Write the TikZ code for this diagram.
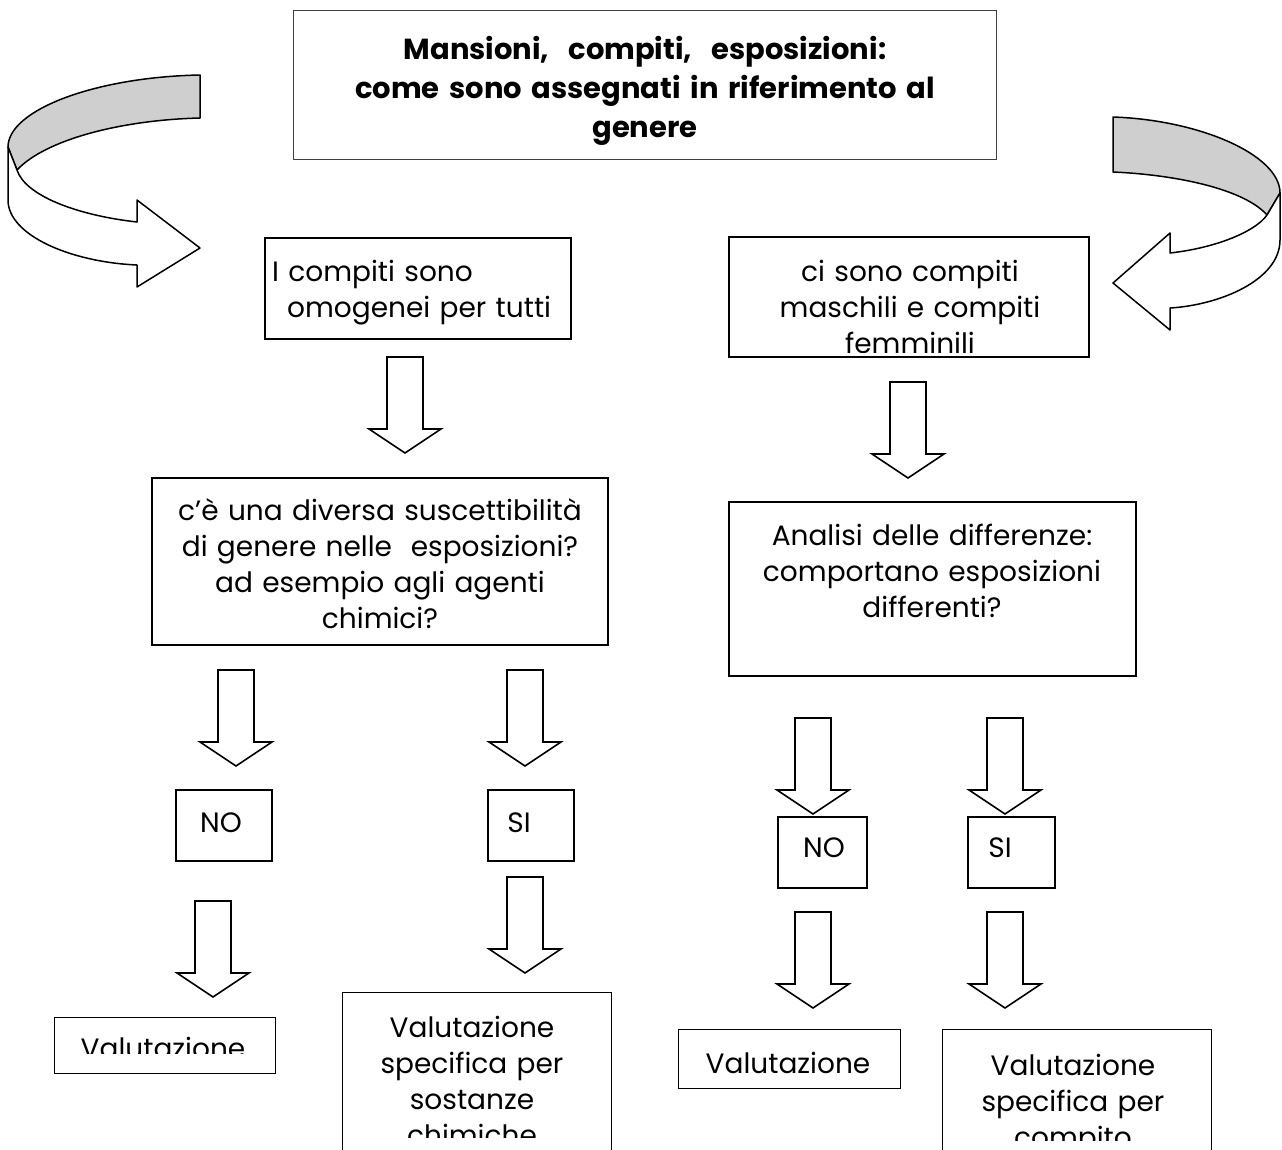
\documentclass[tikz,border=0pt]{standalone}
\usepackage{fontspec}
\setmainfont{Poppins}
\newcommand{\bodyfnt}{\fontsize{28}{36}\selectfont}
\newcommand{\titlefnt}{\bfseries\fontsize{29}{39}\selectfont}
\begin{document}
\begin{tikzpicture}[x=1pt,y=-1pt,
  box/.style={draw, line width=1.6pt, inner sep=0pt, outer sep=0pt, anchor=north west},
  thinbox/.style={box, line width=0.9pt},
  txt/.style={inner sep=0pt, align=center, font=\bodyfnt},
  ribbon/.style={draw, line width=1.5pt, line join=round},
  dnarrow/.pic={\draw[line width=1.6pt, line join=miter, fill=white]
     (-18,0) -- (18,0) -- (18,72) -- (36,72) -- (0,96) -- (-36,72) -- (-18,72) -- cycle;}
]
\useasboundingbox (0,0) rectangle (1282,1149);

% ---- curved ribbon arrows ----
\fill[white] (0,0) rectangle (1282,1149);
\path[ribbon, fill=black!19] (200,75) .. controls (95,77) and (8,110) .. (8,147)
  -- (17,170) .. controls (45,140) and (120,120) .. (200,118) -- cycle;
\path[ribbon, fill=white] (8,147) -- (8,200) .. controls (8,235) and (70,262) .. (137,265)
  -- (137,287) -- (200,248) -- (137,200) -- (137,222)
  .. controls (75,215) and (25,195) .. (17,170) -- cycle;

\path[ribbon, fill=black!19] (1113,117) .. controls (1200,120) and (1280,155) .. (1280,193)
  -- (1267,215) .. controls (1245,190) and (1180,175) .. (1113,172) -- cycle;
\path[ribbon, fill=white] (1280,193) -- (1280,240) .. controls (1280,280) and (1220,305) .. (1170,308)
  -- (1170,330) -- (1113,283) -- (1170,233) -- (1170,253)
  .. controls (1215,248) and (1255,232) .. (1267,215) -- cycle;

% ---- boxes ----
\node[thinbox, draw=black!75, minimum width=703, minimum height=149] (tb) at (293,10) {};
\node[box, minimum width=306, minimum height=101] (b1) at (265,238) {};
\node[box, minimum width=360, minimum height=120] (b2) at (729,237) {};
\node[box, minimum width=456, minimum height=167] (b3) at (152,478) {};
\node[box, minimum width=407, minimum height=174] (b4) at (729,502) {};
\node[box, minimum width=96, minimum height=71] (bno1) at (176,790) {};
\node[box, minimum width=86, minimum height=71] (bsi1) at (488,790) {};
\node[box, minimum width=89, minimum height=71] (bno2) at (778,817) {};
\node[box, minimum width=87, minimum height=71] (bsi2) at (968,817) {};
\node[thinbox, minimum width=221, minimum height=56] (bv1) at (54,1017) {};
\node[thinbox, minimum width=269, minimum height=200] (bv2) at (342,992) {};
\node[thinbox, minimum width=222, minimum height=59] (bv3) at (678,1029) {};
\node[thinbox, minimum width=269, minimum height=200] (bv4) at (942,1029) {};

% ---- texts ----
\node[txt, font=\titlefnt, text width=695, anchor=base] (tt) at (645,59)
  {Mansioni,\ \ compiti,\ \ esposizioni:\\come sono assegnati in riferimento al\\genere};
\node[txt, align=left, text width=300, anchor=base west] (t1) at (272,281)
  {I compiti sono\\\hspace*{15pt}omogenei per tutti};
\begin{scope}
  \clip (729,237) rectangle (1089,352);
  \node[txt, text width=355, anchor=base] (t2) at (910,281)
    {ci sono compiti\\maschili e compiti\\femminili};
\end{scope}
\node[txt, text width=450, anchor=base] (t3) at (380,520)
  {c’è una diversa suscettibilità\\di genere nelle\ \ esposizioni?\\ad esempio agli agenti\\chimici?};
\node[txt, text width=400, anchor=base] (t4) at (932,545)
  {Analisi delle differenze:\\comportano esposizioni\\differenti?};
\node[txt, anchor=base] (tno1) at (221,832) {NO};
\node[txt, anchor=base] (tsi1) at (519,832) {SI};
\node[txt, anchor=base] (tno2) at (824,857) {NO};
\node[txt, anchor=base] (tsi2) at (1000,857) {SI};
\begin{scope}
  \clip (54,1017) rectangle (275,1053);
  \node[txt, anchor=base] (tv1) at (163,1058) {Valutazione};
\end{scope}
\begin{scope}
  \clip (342,992) rectangle (611,1137);
  \node[txt, text width=265, anchor=base] (tv2) at (472,1037)
    {Valutazione\\specifica per\\sostanze\\chimiche};
\end{scope}
\node[txt, anchor=base] (tv3) at (788,1073) {Valutazione};
\begin{scope}
  \clip (942,1029) rectangle (1211,1140);
  \node[txt, text width=265, anchor=base] (tv4) at (1073,1075)
    {Valutazione\\specifica per\\compito};
\end{scope}

% ---- block arrows ----
\pic (a1) at (405,357) {dnarrow};
\pic (a2) at (908,382) {dnarrow};
\pic (a3) at (236,670) {dnarrow};
\pic (a4) at (525,670) {dnarrow};
\pic (a5) at (213,901) {dnarrow};
\pic (a6) at (525,877) {dnarrow};
\pic (a7) at (813,718) {dnarrow};
\pic (a8) at (1005,718) {dnarrow};
\pic (a9) at (813,912) {dnarrow};
\pic (a10) at (1005,912) {dnarrow};
\end{tikzpicture}
\end{document}
